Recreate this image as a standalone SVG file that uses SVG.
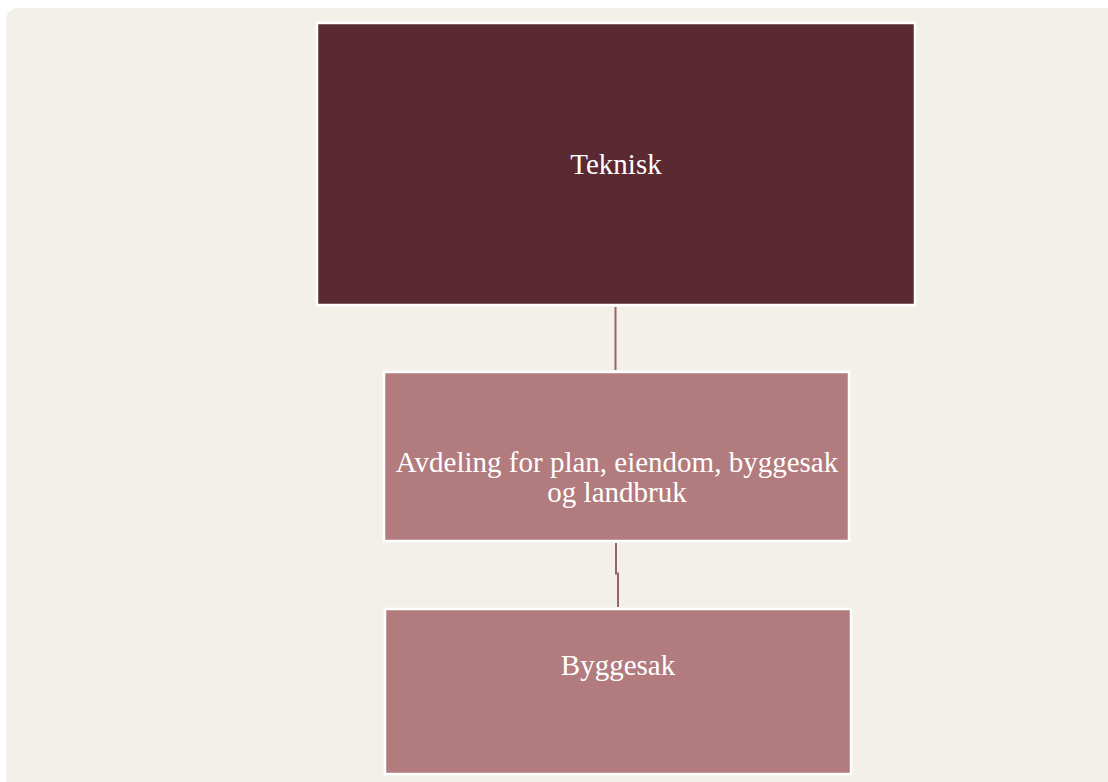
<svg xmlns="http://www.w3.org/2000/svg" width="1108" height="782" viewBox="0 0 1108 782">
<style>
.box{stroke:#ffffff;stroke-width:2.5}
.dark{fill:#5a2931}
.light{fill:#b27b7e}
.lbl{font-family:"Liberation Serif","Times New Roman",serif;font-size:29px;fill:#ffffff;text-anchor:middle}
.conn{fill:none;stroke:#946469;stroke-width:2}
</style>
<rect x="6" y="8" width="1120" height="790" rx="12" fill="#f3f0ea"/>
<g id="connectors">
<path class="conn" d="M615.5 307 V370"/>
<path class="conn" d="M616 543 V573.5 H618 V607"/>
</g>
<g id="node-teknisk">
<rect class="box dark" x="317" y="23" width="598" height="282"/>
<text class="lbl" x="616" y="174">Teknisk</text>
</g>
<g id="node-avdeling">
<rect class="box light" x="384" y="372" width="465" height="169"/>
<text class="lbl" x="617" y="472">Avdeling for plan, eiendom, byggesak</text>
<text class="lbl" x="617" y="502">og landbruk</text>
</g>
<g id="node-byggesak">
<rect class="box light" x="385" y="609" width="466" height="165"/>
<text class="lbl" x="618" y="675">Byggesak</text>
</g>
</svg>
